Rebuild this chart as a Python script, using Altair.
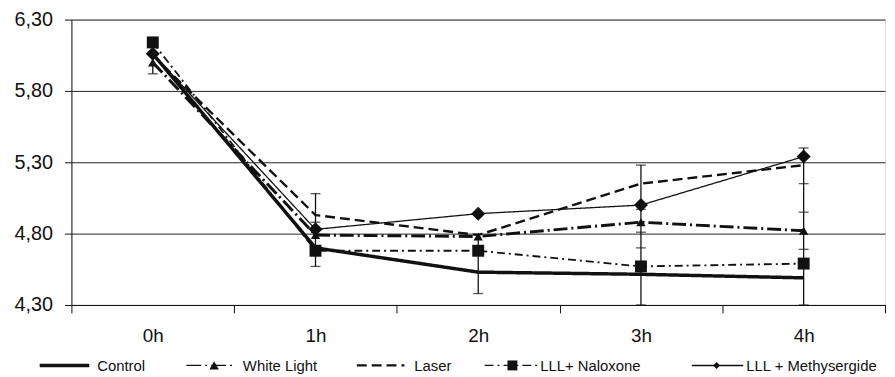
import altair as alt
import pandas as pd

hours = ["0h", "1h", "2h", "3h", "4h"]
series_names = ["Control", "White Light", "Laser", "LLL+ Naloxone", "LLL + Methysergide"]
control = [6.06, 4.70, 4.53, 4.515, 4.49]
white_light = [6.00, 4.79, 4.78, 4.88, 4.82]
laser = [6.05, 4.93, 4.79, 5.15, 5.28]
naloxone = [6.14, 4.68, 4.68, 4.57, 4.59]
methysergide = [6.06, 4.83, 4.94, 5.00, 5.34]

# error bar segments
err_hours = ["0h", "1h", "2h", "3h", "4h"]
err_lo = [5.92, 4.57, 4.38, 4.30, 4.30]
err_hi = [6.00, 5.08, 4.78, 5.28, 5.40]
cap_hours = ["0h", "1h", "1h", "1h", "2h", "3h", "3h", "3h", "3h", "3h",
             "4h", "4h", "4h", "4h", "4h"]
cap_vals = [5.92, 5.08, 4.88, 4.57, 4.38, 5.28, 4.97, 4.81, 4.70, 4.30,
            5.40, 5.15, 4.95, 4.69, 4.30]

y_ticks = [4.30, 4.80, 5.30, 5.80, 6.30]

all_vals = [control, white_light, laser, naloxone, methysergide]
rows = []
for name, vals in zip(series_names, all_vals):
    for h, v in zip(hours, vals):
        rows.append({"series": name, "hour": h, "value": v})
df = pd.DataFrame(rows)

err_df = pd.DataFrame({"hour": err_hours, "lo": err_lo, "hi": err_hi})
cap_df = pd.DataFrame({"hour": cap_hours, "val": cap_vals})

dash_range = [[1, 0], [14, 4, 2, 4], [10, 5], [8, 4, 2, 4], [1, 0]]
width_range = [3.5, 1.3, 2.2, 1.3, 1.5]
marker_series = ["White Light", "LLL+ Naloxone", "LLL + Methysergide"]
shape_range = ["triangle-up", "square", "diamond"]
size_range = [90, 200, 80]

W, H = 821, 288

xenc = alt.X("hour:N", sort=hours,
             scale=alt.Scale(domain=hours, paddingInner=0, paddingOuter=0),
             axis=alt.Axis(title=None, labelAngle=0, tickBand="extent",
                           tickSize=8, labelFontSize=19, labelPadding=14,
                           labelColor="#111", domainColor="#111",
                           tickColor="#111", grid=False))
yscale = alt.Scale(domain=[4.3, 6.3], nice=False, zero=False)

lines = alt.Chart(df).mark_line(color="#111", clip=False).encode(
    x=xenc,
    y=alt.Y("value:Q", scale=yscale,
            axis=alt.Axis(title=None, values=y_ticks, tickSize=7,
                          labelFontSize=20, labelPadding=12,
                          labelExpr="replace(format(datum.value, '.2f'), '.', ',')",
                          labelColor="#111", domainColor="#111", tickColor="#111",
                          grid=True, gridColor="#222", gridWidth=1, gridOpacity=1)),
    detail="series:N",
    strokeDash=alt.StrokeDash("series:N", scale=alt.Scale(domain=series_names, range=dash_range), legend=None),
    strokeWidth=alt.StrokeWidth("series:N", scale=alt.Scale(domain=series_names, range=width_range), legend=None),
)

err_rules = alt.Chart(err_df).mark_rule(color="#111", strokeWidth=1.3).encode(
    x=alt.X("hour:N", sort=hours), y=alt.Y("lo:Q", scale=yscale), y2="hi:Q")
caps = alt.Chart(cap_df).mark_tick(color="#111", size=10, thickness=1.3).encode(
    x=alt.X("hour:N", sort=hours), y=alt.Y("val:Q", scale=yscale))

points = alt.Chart(df).transform_filter(
    alt.FieldOneOfPredicate(field="series", oneOf=marker_series)
).mark_point(filled=True, color="#111", opacity=1).encode(
    x=alt.X("hour:N", sort=hours),
    y=alt.Y("value:Q", scale=yscale),
    shape=alt.Shape("series:N", scale=alt.Scale(domain=marker_series, range=shape_range), legend=None),
    size=alt.Size("series:N", scale=alt.Scale(domain=marker_series, range=size_range), legend=None),
)

# legend (drawn below the axis, positions in pixels relative to the plot origin)
ox, oy = 72, 18
ly = 367 - oy
legend_items = [
    # name, x1, x2, marker_x, text_x, dash, width, shape, size
    ("Control", 40, 90, None, 98, [1, 0], 3.5, None, 0),
    ("White Light", 188, 237, 216, 245, [15, 4, 2, 4], 1.3, "triangle-up", 90),
    ("Laser", 360, 408, None, 418, [10, 5], 2.2, None, 0),
    ("LLL+ Naloxone", 489, 543, 517, 545, [9, 4, 2, 4], 1.3, "square", 100),
    ("LLL + Methysergide", 698, 750, 723, 753, [1, 0], 1.5, "diamond", 50),
]
one = pd.DataFrame({"k": [0]})
legend_layers = []
for name, x1, x2, mx, tx, dash, sw, shp, sz in legend_items:
    legend_layers.append(
        alt.Chart(one).mark_rule(color="#111", strokeWidth=sw, strokeDash=dash, clip=False).encode(
            x=alt.value(x1 - ox), x2=alt.value(x2 - ox), y=alt.value(ly)))
    if shp:
        legend_layers.append(
            alt.Chart(one).mark_point(shape=shp, size=sz, filled=True, color="#111", opacity=1, clip=False).encode(
                x=alt.value(mx - ox), y=alt.value(ly)))
    legend_layers.append(
        alt.Chart(one).mark_text(align="left", baseline="middle", fontSize=15,
                                 font="Liberation Sans", color="#111", clip=False).encode(
            x=alt.value(tx - ox), y=alt.value(ly + 1), text=alt.value(name)))

chart = alt.layer(lines, err_rules, caps, points, *legend_layers).properties(
    width=W, height=H,
    autosize=alt.AutoSizeParams(type="none"),
    padding={"left": 64, "top": 10, "right": 2, "bottom": 70},
).configure_view(stroke="#111", strokeWidth=1.2).configure_axis(
    labelFont="Liberation Sans"
).configure(background="white")

chart.save("out.html", embed_options={"renderer": "svg", "actions": False})
